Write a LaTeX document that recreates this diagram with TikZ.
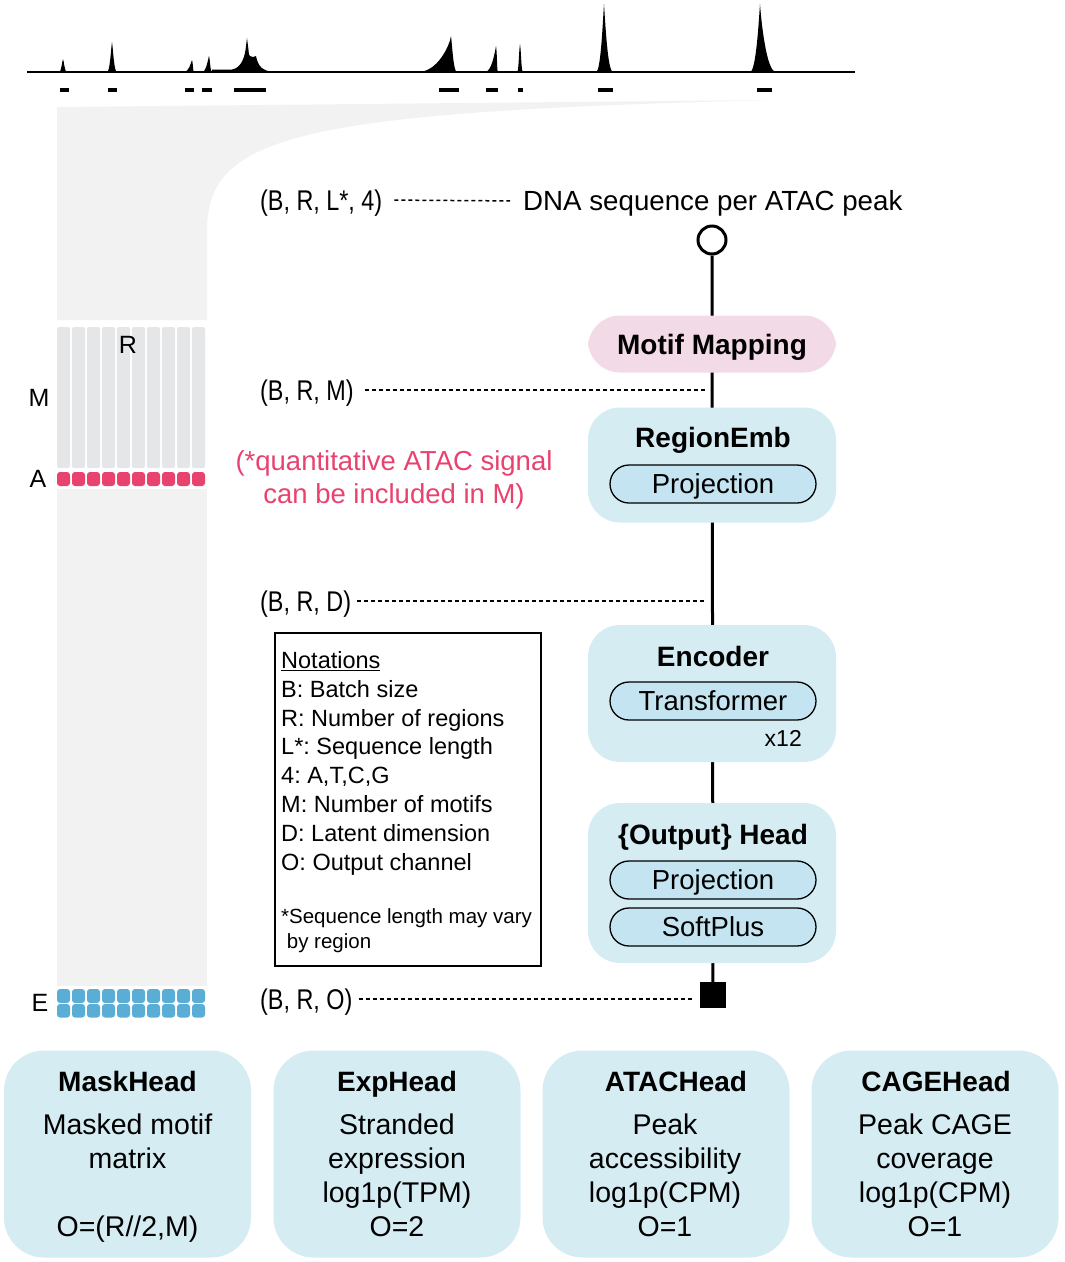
\documentclass[tikz,border=0pt]{standalone}
\usepackage{fontspec}
\setmainfont{Liberation Sans}
\newfontfamily\narrowfont[FakeStretch=0.82]{Liberation Sans}
\usepackage{xcolor}
\usepackage{tikz}
\usetikzlibrary{backgrounds}
\frenchspacing

\definecolor{blockblue}{HTML}{D6ECF3}
\definecolor{pillblue}{HTML}{C3E4F0}
\definecolor{mappink}{HTML}{F3DAE7}
\definecolor{atacred}{HTML}{E8426E}
\definecolor{eblue}{HTML}{5AAED6}
\definecolor{colgray}{HTML}{E5E6E7}
\definecolor{funnelgray}{HTML}{F2F2F2}

% one ATAC peak: left foot, apex x, apex y, right foot
\newcommand{\atacpeak}[4]{%
  \fill (#1,72) .. controls (#2-0.4*#2+0.4*#1,72) and (#2-1.2,#3+0.25*72-0.25*#3) .. (#2,#3)
    .. controls (#2+1.2,#3+0.25*72-0.25*#3) and (#2+0.4*#4-0.4*#2,72) .. (#4,72) -- cycle;}

\tikzset{
  block/.style={fill=blockblue, rounded corners=32pt, minimum width=248pt, inner sep=0pt},
  blocktitle/.style={font=\bfseries\fontsize{28}{34}\selectfont, text height=20pt, text depth=0pt, inner sep=0pt},
  pill/.style={draw, line width=1.3pt, fill=pillblue, rounded corners=19pt,
    minimum width=206pt, minimum height=38pt, inner sep=0pt,
    font=\fontsize{27.5}{33}\selectfont, text height=19.7pt, text depth=0pt},
  shapelbl/.style={font=\narrowfont\fontsize{28.5}{34}\selectfont, text height=20.4pt, text depth=0pt, inner sep=0pt, anchor=west},
  axislbl/.style={font=\fontsize{25}{30}\selectfont, text height=17.9pt, text depth=0pt, inner sep=0pt},
  dotline/.style={line width=1.5pt, dash pattern=on 4pt off 3pt},
  headbox/.style={fill=blockblue, rounded corners=40pt, minimum width=247pt, minimum height=207pt},
  headtitle/.style={font=\bfseries\fontsize{28}{34}\selectfont, inner sep=0pt, anchor=base},
  headtext/.style={font=\fontsize{28.5}{34}\selectfont, align=center, inner sep=0pt, anchor=base},
}

\begin{document}
\begin{tikzpicture}[x=1pt, y=-1pt]
  \useasboundingbox (0,0) rectangle (1065,1262);

  % ATAC track
  \draw[line width=2pt] (27,72) -- (855,72);
  \atacpeak{59}{63}{59}{67}
  \atacpeak{107}{112}{42}{117}
  \atacpeak{184}{192}{60}{194}
  \atacpeak{202}{209}{56}{212}
  \fill (212,72) -- (212,69.5) -- (232,69.5) .. controls (240,68) and (244,60) .. (245.5,50)
    -- (247,38) -- (248.5,50) .. controls (249,56) .. (253,57) -- (256,56)
    .. controls (258,66) and (262,71) .. (274,72) -- cycle;
  \atacpeak{418}{451}{36}{457}
  \atacpeak{485}{496}{46}{498}
  \atacpeak{517}{520}{44}{523}
  \atacpeak{596}{604}{4}{613}
  \atacpeak{750}{760}{4}{776}
  \foreach \a/\b in {60/69, 108/117, 185/194, 202/212, 234/266, 439/459, 486/498, 518/523, 598/613, 757/772}
    \fill (\a,88) rectangle (\b,92);

  % funnel and matrix
  \fill[funnelgray] (57,107) -- (772,100) .. controls (300,112) and (207,135) .. (207,230)
    -- (207,320) -- (57,320) -- cycle;
  \fill[funnelgray] (57,489) rectangle (207,986);
  \foreach \c in {0,...,9} {
    \fill[colgray, rounded corners=2pt] ({57+15*\c},327) rectangle ++(13,141);
    \fill[atacred, rounded corners=3pt] ({57+15*\c},472) rectangle ++(13,14);
    \fill[eblue, rounded corners=3pt] ({57+15*\c},989) rectangle ++(13,14);
    \fill[eblue, rounded corners=3pt] ({57+15*\c},1004) rectangle ++(13,13.5);
  }
  \node[axislbl] (rlbl) at (128,345) {R};
  \node[axislbl] (mlbl) at (39,398) {M};
  \node[axislbl] (albl) at (38,479) {A};
  \node[axislbl] (elbl) at (40,1003) {E};

  \node[font=\fontsize{27.5}{33}\selectfont, text=atacred, align=center, inner sep=0pt, anchor=base]
    (atacnote) at (394,503) {(*quantitative ATAC signal\\can be included in M)};

  % model
  \node[circle, draw, line width=3pt, fill=white, minimum size=28pt, inner sep=0pt] (seq) at (712,240) {};
  \node[fill=black, minimum size=26pt, inner sep=0pt] (out) at (713,995) {};
  \begin{pgfonlayer}{background}
    \draw[line width=3pt] (seq) -- (out);
  \end{pgfonlayer}

  \node[block, fill=mappink, minimum height=57pt, font=\bfseries\fontsize{28}{34}\selectfont,
    text height=20pt, text depth=0pt] (motif) at (712,344) {Motif Mapping};

  \node[block, minimum height=115pt] (regemb) at (712,465) {};
  \node[blocktitle] (regembT) at (713,437) {RegionEmb};
  \node[pill] (regproj) at (713,484) {Projection};

  \node[block, minimum height=137pt] (encoder) at (712,693.5) {};
  \node[blocktitle] (encoderT) at (713,656) {Encoder};
  \node[pill] (transf) at (713,701) {Transformer};
  \node[font=\fontsize{23}{28}\selectfont, anchor=east, inner sep=0pt, text height=16.5pt, text depth=0pt]
    (x12) at (802,738) {x12};

  \node[block, minimum height=160pt] (outhead) at (712,883) {};
  \node[blocktitle] (outheadT) at (713,834) {\{Output\} Head};
  \node[pill] (outproj) at (713,880) {Projection};
  \node[pill] (softplus) at (713,927) {SoftPlus};

  % shapes
  \node[shapelbl] (shpseq) at (260,200) {(B, R, L*, 4)};
  \node[font=\fontsize{27.7}{33}\selectfont, text height=19.8pt, text depth=0pt, inner sep=0pt, anchor=west]
    (dnatext) at (523,201) {DNA sequence per ATAC peak};
  \draw[dotline, shorten <=12pt, shorten >=13pt] (shpseq.east) -- (dnatext.west);

  \node[shapelbl] (shpm) at (260,390) {(B, R, M)};
  \coordinate (tapm) at (705,390);
  \draw[dotline, shorten <=11pt] (shpm.east) -- (tapm);

  \node[shapelbl] (shpd) at (260,601) {(B, R, D)};
  \coordinate (tapd) at (705,601);
  \draw[dotline, shorten <=6pt] (shpd.east) -- (tapd);

  \node[shapelbl] (shpo) at (260,999) {(B, R, O)};
  \coordinate (tapo) at (693,999);
  \draw[dotline, shorten <=6pt] (shpo.east) -- (tapo);

  % notations
  \node[draw, line width=1.5pt, minimum width=266pt, minimum height=333pt, anchor=north west, inner sep=0pt]
    (notebox) at (274,632) {};
  \node[anchor=base west, align=left, font=\fontsize{23.5}{28.8}\selectfont, inner sep=0pt]
    (notetext) at (281,870) {\underline{Notations}\\B: Batch size\\R: Number of regions\\L*: Sequence length\\4: A,T,C,G\\M: Number of motifs\\D: Latent dimension\\O: Output channel};
  \node[anchor=base west, align=left, font=\fontsize{20.5}{25}\selectfont, inner sep=0pt]
    (notefoot) at (281,948) {*Sequence length may vary\\\ by region};

  % heads
  \node[headbox] (maskhead) at (127.5,1154) {};
  \node[headtitle] (maskheadT) at (127.5,1091) {MaskHead};
  \node[headtext] (maskheadB) at (127.5,1236) {Masked motif\\matrix\\[34pt]O=(R//2,M)};

  \node[headbox] (exphead) at (397,1154) {};
  \node[headtitle] (expheadT) at (397,1091) {ExpHead};
  \node[headtext] (expheadB) at (397,1236) {Stranded\\expression\\log1p(TPM)\\O=2};

  \node[headbox] (atachead) at (666,1154) {};
  \node[headtitle] (atacheadT) at (676,1091) {ATACHead};
  \node[headtext] (atacheadB) at (665,1236) {Peak\\accessibility\\log1p(CPM)\\O=1};

  \node[headbox] (cagehead) at (935,1154) {};
  \node[headtitle] (cageheadT) at (936,1091) {CAGEHead};
  \node[headtext] (cageheadB) at (935,1236) {Peak CAGE\\coverage\\log1p(CPM)\\O=1};
\end{tikzpicture}
\end{document}
